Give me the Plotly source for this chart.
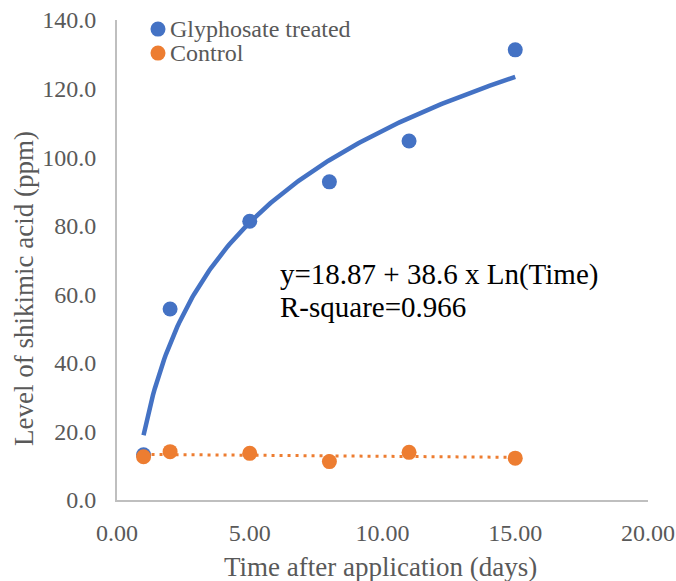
import numpy as np
import plotly.graph_objects as go

# Sampling days and shikimic acid levels (ppm)
days = [1, 2, 5, 8, 11, 15]
glyphosate = [13.2, 55.7, 81.3, 92.8, 104.7, 131.3]
control = [12.6, 14.1, 13.6, 11.2, 13.9, 12.2]

# Logarithmic fit reported for the treated series
fit_intercept = 18.87
fit_slope = 38.6
fit_r2 = 0.966

x_ticks = [0, 5, 10, 15, 20]
y_ticks = [0, 20, 40, 60, 80, 100, 120, 140]

BLUE = "#4472C4"
ORANGE = "#ED7D31"
GREY = "#595959"
FONT = "Liberation Serif"

fig = go.Figure()

# Log trend for glyphosate-treated plants
xs = np.linspace(min(days), max(days), 200)
fig.add_trace(go.Scatter(
    x=xs, y=fit_intercept + fit_slope * np.log(xs),
    mode="lines", line=dict(color=BLUE, width=4.5),
    showlegend=False, hoverinfo="skip"))

# Linear trend for the control
c1, c0 = np.polyfit(days, control, 1)
xl = np.array([min(days), max(days)])
fig.add_trace(go.Scatter(
    x=xl, y=c0 + c1 * xl,
    mode="lines", line=dict(color=ORANGE, width=3, dash="3px,5px"),
    showlegend=False, hoverinfo="skip"))

fig.add_trace(go.Scatter(
    x=days, y=glyphosate, mode="markers", name="Glyphosate treated",
    marker=dict(color=BLUE, size=15), showlegend=False))
fig.add_trace(go.Scatter(
    x=days, y=control, mode="markers", name="Control",
    marker=dict(color=ORANGE, size=15), showlegend=False))

# Legend drawn as markers + labels near the top-left of the plot
legend_items = [("Glyphosate treated", BLUE, 0.981), ("Control", ORANGE, 0.931)]
for label, color, yy in legend_items:
    fig.add_shape(type="circle", xref="paper", yref="paper",
                  xsizemode="pixel", ysizemode="pixel",
                  xanchor=0.0772, yanchor=yy, x0=-7.5, x1=7.5, y0=-7.5, y1=7.5,
                  fillcolor=color, line=dict(width=0))
    fig.add_annotation(x=0.096, y=yy, xref="paper", yref="paper",
                       text=label, showarrow=False, xanchor="left", yanchor="middle",
                       font=dict(family=FONT, size=24, color=GREY))

# Fit equation and goodness of fit
eq_lines = [(f"y={fit_intercept} + {fit_slope} x Ln(Time)", 0.469),
            (f"R-square={fit_r2}", 0.402)]
for txt, yy in eq_lines:
    fig.add_annotation(
        x=0.303, y=yy, xref="paper", yref="paper", xanchor="left", yanchor="middle",
        text=txt, showarrow=False, align="left",
        font=dict(family=FONT, size=29, color="black"))

# Axis titles
fig.add_annotation(x=0.497, y=-0.1396, xref="paper", yref="paper",
                   text="Time after application (days)", showarrow=False,
                   xanchor="center", yanchor="middle",
                   font=dict(family=FONT, size=27, color=GREY))
fig.add_annotation(x=-0.175, y=0.44, xref="paper", yref="paper",
                   text="Level of shikimic acid (ppm)", showarrow=False,
                   textangle=-90, xanchor="center", yanchor="middle",
                   font=dict(family=FONT, size=27, color=GREY))

axis_common = dict(
    showgrid=False, zeroline=False, showline=True, linecolor="#BFBFBF", linewidth=2,
    ticks="", automargin=False, tickfont=dict(family=FONT, size=24, color=GREY))

fig.update_layout(
    width=676, height=581,
    margin=dict(l=117, r=28, t=20, b=81),
    paper_bgcolor="white", plot_bgcolor="white",
    font=dict(family=FONT),
    xaxis=dict(range=[0, 20], tickvals=x_ticks,
               ticktext=[f"{v:.2f}" for v in x_ticks],
               ticklabelstandoff=10, **axis_common),
    yaxis=dict(range=[0, 140], tickvals=y_ticks,
               ticktext=[f"{v:.1f}" for v in y_ticks],
               ticklabelstandoff=14, **axis_common),
)

fig.write_html("out.html")
